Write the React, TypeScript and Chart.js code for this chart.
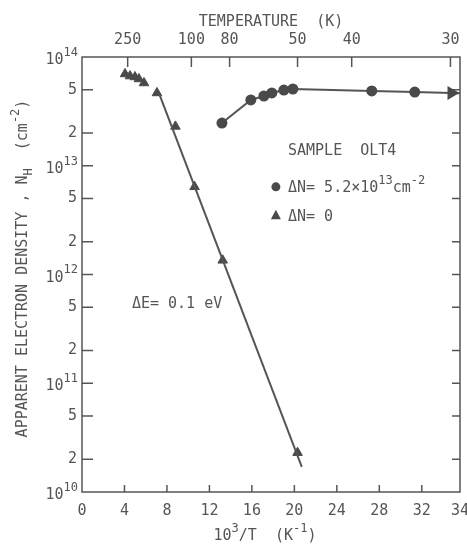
import { useEffect, useRef } from 'react';
import { Chart, registerables } from 'chart.js';
Chart.register(...registerables);

// ---- axes ----
const X_MIN = 0;
const X_MAX = 35.6;
const X_TICK_VALUES = [0, 4, 8, 12, 16, 20, 24, 28, 32, 35.6];
const X_TICK_LABELS = ['0', '4', '8', '12', '16', '20', '24', '28', '32', '34'];
const TEMP_TICK_POS = [4.3, 10.3, 13.9, 20.3, 25.4, 34.7];
const TEMP_TICK_LABELS = ['250', '100', '80', '50', '40', '30'];
const Y_MIN = 1e10;
const Y_MAX = 1e14;
const Y_TICK_VALUES = [1e10, 2e10, 5e10, 1e11, 2e11, 5e11, 1e12, 2e12, 5e12, 1e13, 2e13, 5e13, 1e14];
const Y_TICK_LABELS = ['', '2', '5', '', '2', '5', '', '2', '5', '', '2', '5', ''];
const Y_MAJOR_EXP = [10, 11, 12, 13, 14];

// ---- data: ΔN = 0 (triangles) ----
const TRI_X = [4.05, 4.52, 4.99, 5.36, 5.84, 7.06, 8.8, 10.6, 13.25, 20.3];
const TRI_Y = [6.98e13, 6.68e13, 6.55e13, 6.28e13, 5.77e13, 4.67e13, 2.3e13, 6.4e12, 1.35e12, 2.3e10];
const FIT_X = [7.3, 20.7];
const FIT_Y = [4.5e13, 1.7e10];

// ---- data: ΔN = 5.2e13 (circles) ----
const CIRC_X = [13.18, 15.9, 17.13, 17.88, 19.01, 19.86, 27.29, 31.34];
const CIRC_Y = [2.47e13, 4.03e13, 4.38e13, 4.67e13, 4.97e13, 5.08e13, 4.87e13, 4.76e13];
const TAIL_X = [31.34, 34.8, 35.6];
const TAIL_Y = [4.76e13, 4.67e13, 4.63e13];

const INK = '#555555';
const MARK = '#4a4a4a';
const FONT = "'DejaVu Sans Mono', monospace";

type Part = { t: string; s?: 'sup' | 'sub' };

function drawRich(
  ctx: CanvasRenderingContext2D,
  parts: Part[],
  x: number,
  y: number,
  size: number,
  align: 'left' | 'right' | 'center'
) {
  const small = Math.round(size * 0.8);
  const widths = parts.map((p) => {
    ctx.font = `${p.s ? small : size}px ${FONT}`;
    return ctx.measureText(p.t).width;
  });
  const total = widths.reduce((a, b) => a + b, 0);
  let cx = align === 'left' ? x : align === 'right' ? x - total : x - total / 2;
  ctx.textBaseline = 'alphabetic';
  ctx.textAlign = 'left';
  parts.forEach((p, i) => {
    ctx.font = `${p.s ? small : size}px ${FONT}`;
    const dy = p.s === 'sup' ? -size * 0.55 : p.s === 'sub' ? size * 0.3 : 0;
    ctx.fillText(p.t, cx, y + dy);
    cx += widths[i];
  });
}

const decor = {
  id: 'decor',
  beforeDraw(chart: any) {
    const ctx = chart.ctx;
    ctx.save();
    ctx.fillStyle = '#ffffff';
    ctx.fillRect(0, 0, chart.width, chart.height);
    ctx.restore();
  },
  beforeDatasetsDraw(chart: any) {
    const { ctx, chartArea, scales } = chart;
    const { left, right, top, bottom } = chartArea;
    ctx.save();
    ctx.strokeStyle = INK;
    ctx.lineWidth = 1.5;
    ctx.strokeRect(left, top, right - left, bottom - top);
    const seg = (x1: number, y1: number, x2: number, y2: number) => {
      ctx.beginPath();
      ctx.moveTo(x1, y1);
      ctx.lineTo(x2, y2);
      ctx.stroke();
    };
    Y_TICK_VALUES.forEach((v) => {
      if (v <= Y_MIN || v >= Y_MAX) return;
      const y = scales.y.getPixelForValue(v);
      seg(left, y, left + 11, y);
      seg(right, y, right - 8, y);
    });
    X_TICK_VALUES.forEach((v) => {
      if (v <= X_MIN || v >= X_MAX) return;
      const x = scales.x.getPixelForValue(v);
      seg(x, bottom, x, bottom - 7);
    });
    TEMP_TICK_POS.forEach((v) => {
      const x = scales.x2.getPixelForValue(v);
      seg(x, top, x, top + 10);
    });
    ctx.restore();
  },
  afterDraw(chart: any) {
    const { ctx, chartArea, scales } = chart;
    const { left, right, top, bottom } = chartArea;
    ctx.save();
    ctx.fillStyle = INK;
    // y-axis decade labels
    Y_MAJOR_EXP.forEach((e) => {
      const y = scales.y.getPixelForValue(Math.pow(10, e));
      drawRich(ctx, [{ t: '10' }, { t: String(e), s: 'sup' }], left - 4, y + 7, 15, 'right');
    });
    // titles
    const midX = (left + right) / 2;
    drawRich(ctx, [{ t: 'TEMPERATURE  (K)' }], midX, 26, 15, 'center');
    drawRich(
      ctx,
      [{ t: '10' }, { t: '3', s: 'sup' }, { t: '/T  (K' }, { t: '-1', s: 'sup' }, { t: ')' }],
      midX - 6,
      540,
      15,
      'center'
    );
    ctx.save();
    ctx.translate(22, (top + bottom) / 2 - 6);
    ctx.rotate(-Math.PI / 2);
    drawRich(
      ctx,
      [
        { t: 'APPARENT ELECTRON DENSITY , N' },
        { t: 'H', s: 'sub' },
        { t: '  (cm' },
        { t: '-2', s: 'sup' },
        { t: ')' },
      ],
      0,
      5,
      15,
      'center'
    );
    ctx.restore();

    // legend / annotations placed in data coordinates
    const px = (v: number) => scales.x.getPixelForValue(v);
    const py = (v: number) => scales.y.getPixelForValue(v);
    const textX = px(19.4);
    drawRich(ctx, [{ t: 'SAMPLE  OLT4' }], textX, py(1.4e13) + 5.5, 15, 'left');
    const cy = py(6.4e12);
    ctx.fillStyle = MARK;
    ctx.beginPath();
    ctx.arc(px(18.26), cy, 4.5, 0, Math.PI * 2);
    ctx.fill();
    ctx.fillStyle = INK;
    drawRich(
      ctx,
      [{ t: 'ΔN= 5.2×10' }, { t: '13', s: 'sup' }, { t: 'cm' }, { t: '-2', s: 'sup' }],
      textX,
      cy + 5.5,
      15,
      'left'
    );
    const ty = py(3.5e12);
    const tx = px(18.26);
    ctx.fillStyle = MARK;
    ctx.beginPath();
    ctx.moveTo(tx, ty - 5.5);
    ctx.lineTo(tx + 5, ty + 4);
    ctx.lineTo(tx - 5, ty + 4);
    ctx.closePath();
    ctx.fill();
    ctx.fillStyle = INK;
    drawRich(ctx, [{ t: 'ΔN= 0' }], textX, ty + 5.5, 15, 'left');
    drawRich(ctx, [{ t: 'ΔE= 0.1 eV' }], px(4.7), py(5.5e11) + 5.5, 15, 'left');
    ctx.restore();
  },
};

const pts = (xs: number[], ys: number[]) => xs.map((x, i) => ({ x, y: ys[i] }));

export default function App() {
  const ref = useRef<HTMLCanvasElement | null>(null);
  useEffect(() => {
    document.body.style.margin = '0';
    const canvas = ref.current;
    if (!canvas) return;
    const tickFont = { family: FONT, size: 15 };
    const chart = new Chart(canvas, {
      type: 'scatter',
      data: {
        datasets: [
          {
            label: 'fit ΔN=0',
            data: pts(FIT_X, FIT_Y),
            showLine: true,
            borderColor: INK,
            borderWidth: 2,
            pointRadius: 0,
          },
          {
            label: 'ΔN= 0',
            data: pts(TRI_X, TRI_Y),
            showLine: false,
            pointStyle: 'triangle',
            pointRadius: 5.5,
            backgroundColor: MARK,
            borderColor: MARK,
            borderWidth: 1,
          },
          {
            label: 'ΔN= 5.2×10^13',
            data: pts(CIRC_X, CIRC_Y),
            showLine: true,
            borderColor: INK,
            borderWidth: 2,
            pointStyle: 'circle',
            pointRadius: 4.5,
            backgroundColor: MARK,
            pointBorderColor: MARK,
          },
          {
            label: 'tail',
            data: pts(TAIL_X, TAIL_Y),
            showLine: true,
            borderColor: INK,
            borderWidth: 2,
            pointStyle: 'triangle',
            rotation: 90,
            pointRadius: [0, 6, 0],
            backgroundColor: MARK,
            pointBorderColor: MARK,
          },
        ],
      } as any,
      options: {
        animation: false,
        responsive: false,
        devicePixelRatio: 1,
        layout: { padding: { left: 0, right: 7, top: 0, bottom: 0 } },
        plugins: { legend: { display: false }, tooltip: { enabled: false } },
        scales: {
          x: {
            type: 'linear',
            position: 'bottom',
            min: X_MIN,
            max: X_MAX,
            grid: { display: false, drawTicks: false },
            border: { display: false },
            afterBuildTicks: (s: any) => {
              s.ticks = X_TICK_VALUES.map((value) => ({ value }));
            },
            ticks: {
              autoSkip: false,
              maxRotation: 0,
              padding: 10,
              color: INK,
              font: tickFont,
              callback: (_v: any, i: number) => X_TICK_LABELS[i],
            },
            afterFit: (s: any) => {
              s.height = 54;
              s.paddingLeft = 0;
              s.paddingRight = 0;
            },
          },
          x2: {
            type: 'linear',
            axis: 'x',
            position: 'top',
            min: X_MIN,
            max: X_MAX,
            grid: { display: false, drawTicks: false },
            border: { display: false },
            afterBuildTicks: (s: any) => {
              s.ticks = TEMP_TICK_POS.map((value) => ({ value }));
            },
            ticks: {
              autoSkip: false,
              maxRotation: 0,
              padding: 8,
              color: INK,
              font: tickFont,
              callback: (_v: any, i: number) => TEMP_TICK_LABELS[i],
            },
            afterFit: (s: any) => {
              s.height = 57;
              s.paddingLeft = 0;
              s.paddingRight = 0;
            },
          },
          y: {
            type: 'logarithmic',
            position: 'left',
            min: Y_MIN,
            max: Y_MAX,
            grid: { display: false, drawTicks: false },
            border: { display: false },
            afterBuildTicks: (s: any) => {
              s.ticks = Y_TICK_VALUES.map((value) => ({ value }));
            },
            ticks: {
              autoSkip: false,
              padding: 5,
              color: INK,
              font: tickFont,
              callback: (_v: any, i: number) => Y_TICK_LABELS[i],
            },
            afterFit: (s: any) => {
              s.width = 82;
              s.paddingTop = 0;
              s.paddingBottom = 0;
            },
          },
        },
      } as any,
      plugins: [decor],
    });
    return () => chart.destroy();
  }, []);
  return (
    <div style={{ width: 467, height: 546 }}>
      <canvas ref={ref} width={467} height={546} style={{ display: 'block' }} />
    </div>
  );
}
